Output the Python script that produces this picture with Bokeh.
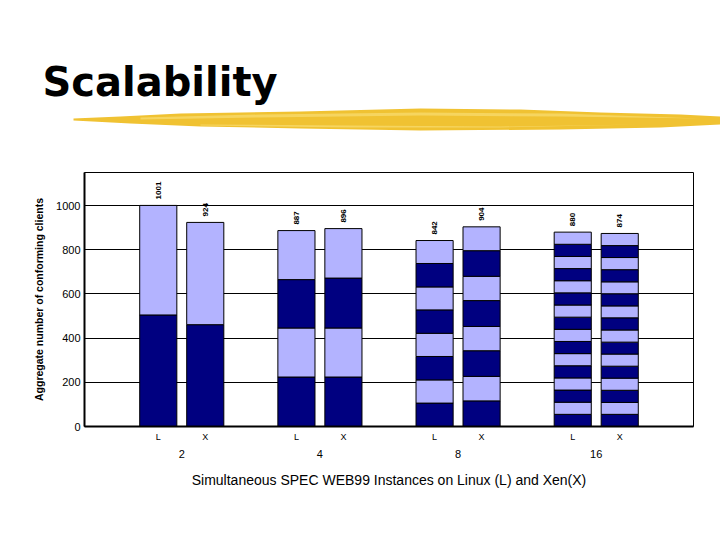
import numpy as np
from bokeh.plotting import figure
from bokeh.models import ColumnDataSource, FactorRange, FixedTicker, Label, Range1d
from bokeh.layouts import column
from bokeh.embed import file_html
from bokeh.resources import INLINE
from bokeh.core.properties import value

# ---------------- data ----------------
groups = ["2", "4", "8", "16"]
systems = ["L", "X"]
totals = [1001, 924, 887, 896, 842, 904, 880, 874]
seg_2L = [505, 496]
seg_2X = [461, 463]
seg_4L = [224, 222, 219, 222]
seg_4X = [224, 222, 226, 224]
seg_8L = [106, 105, 106, 105, 106, 104, 106, 104]
seg_8X = [116, 111, 116, 110, 117, 110, 116, 108]
seg_16L = [55, 55, 55, 55, 55, 55, 55, 55, 55, 55, 55, 55, 55, 55, 55, 55]
seg_16X = [55, 54, 55, 55, 54, 55, 54, 55, 55, 54, 55, 54, 55, 55, 54, 55]
y_ticks = [0, 200, 400, 600, 800, 1000]
title_text = "Scalability"
y_title = "Aggregate number of conforming clients"
x_title = "Simultaneous SPEC WEB99 Instances on Linux (L) and Xen(X)"

DARK = "#000080"
LIGHT = "#B3B3FF"
FONT = "Liberation Sans"

segments = [seg_2L, seg_2X, seg_4L, seg_4X, seg_8L, seg_8X, seg_16L, seg_16X]
factors = [(g, s) for g in groups for s in systems]

xs, bottoms, tops, colors = [], [], [], []
for f, segs in zip(factors, segments):
    cum = np.cumsum([0] + segs)
    for i in range(len(segs)):
        xs.append(f)
        bottoms.append(float(cum[i]))
        tops.append(float(cum[i + 1]))
        colors.append(DARK if i % 2 == 0 else LIGHT)
bar_src = ColumnDataSource(dict(x=xs, bottom=bottoms, top=tops, color=colors))
lab_src = ColumnDataSource(dict(x=factors, y=totals, t=[str(v) for v in totals]))

# ---------------- header (data units = page pixels) ----------------
HH = 140
h = figure(width=720, height=HH, x_range=Range1d(0, 720), y_range=Range1d(0, HH),
           output_backend="svg", toolbar_location=None, min_border=0, title=None,
           x_axis_location=None, y_axis_location=None)
h.frame_align = False
h.grid.visible = False
h.outline_line_color = None
stroke_top = [(73, 118), (120, 116), (180, 113), (300, 111), (420, 108), (520, 109),
              (600, 112), (680, 114), (720, 116)]
stroke_bot = [(720, 124), (660, 127), (560, 129), (420, 130), (300, 128), (200, 126),
              (130, 123), (73, 120)]
pts = stroke_top + stroke_bot
h.patch([px for px, py in pts], [HH - py for px, py in pts],
        fill_color="#F0C232", line_color=None)
streaks = [
    [(140, 117), (260, 114), (420, 112), (560, 113), (700, 118),
     (560, 116), (420, 115), (260, 117), (140, 119)],
    [(200, 124), (350, 125), (500, 126), (640, 124), (500, 127), (350, 127), (200, 125)],
]
for s in streaks:
    h.patch([px for px, py in s], [HH - py for px, py in s],
            fill_color="#F8DA6A", line_color=None, fill_alpha=0.8)
h.add_layout(Label(x=42, y=HH - 81, text=title_text, text_font="DejaVu Sans",
                   text_font_size="40px", text_font_style="bold", text_color="black",
                   text_baseline="middle", text_align="left"))

# ---------------- chart ----------------
p = figure(x_range=FactorRange(*factors, group_padding=0.94, range_padding=1.07,
                               range_padding_units="absolute"),
           y_range=Range1d(0, 1150), width=720, height=395, title=None,
           output_backend="svg", toolbar_location=None,
           min_border_left=84, min_border_right=27, min_border_top=32, min_border_bottom=109)
p.frame_align = False

p.vbar(x="x", bottom="bottom", top="top", width=0.79, fill_color="color",
       line_color="black", line_width=1, source=bar_src)
p.text(x="x", y="y", text="t", source=lab_src, angle=np.pi / 2,
       text_align="left", text_baseline="middle", y_offset=-6,
       text_font=value(FONT), text_font_size="8px", text_font_style="bold",
       text_color="black")

p.outline_line_color = "black"
p.outline_line_width = 1
p.xgrid.visible = False
p.ygrid.ticker = FixedTicker(ticks=y_ticks)
p.ygrid.grid_line_color = "black"
p.ygrid.grid_line_width = 1

p.yaxis.ticker = FixedTicker(ticks=y_ticks)
p.yaxis.axis_line_width = 2
p.yaxis.axis_line_color = "black"
p.yaxis.major_tick_out = 0
p.yaxis.major_tick_in = 0
p.yaxis.minor_tick_out = 0
p.yaxis.minor_tick_in = 0
p.yaxis.major_label_standoff = 4
p.yaxis.major_label_text_font = FONT
p.yaxis.major_label_text_font_size = "11px"
p.yaxis.major_label_text_color = "black"
p.yaxis.axis_label = y_title
p.yaxis.axis_label_text_font = FONT
p.yaxis.axis_label_text_font_size = "10.5px"
p.yaxis.axis_label_text_font_style = "bold"
p.yaxis.axis_label_text_color = "black"
p.yaxis.axis_label_standoff = 8

p.xaxis.axis_line_width = 2
p.xaxis.axis_line_color = "black"
p.xaxis.major_tick_out = 0
p.xaxis.major_tick_in = 0
p.xaxis.major_label_standoff = 5
p.xaxis.major_label_text_font = FONT
p.xaxis.major_label_text_font_size = "9px"
p.xaxis.major_label_text_color = "black"
p.xaxis.group_text_font = FONT
p.xaxis.group_text_font_size = "11px"
p.xaxis.group_text_font_style = "normal"
p.xaxis.group_text_color = "black"
p.xaxis.separator_line_alpha = 0
p.xaxis.axis_label = x_title
p.xaxis.axis_label_text_font = FONT
p.xaxis.axis_label_text_font_size = "14px"
p.xaxis.axis_label_text_font_style = "normal"
p.xaxis.axis_label_text_color = "black"
p.xaxis.axis_label_standoff = 11

layout = column(h, p)
open("out.html", "w").write(file_html(layout, INLINE))
